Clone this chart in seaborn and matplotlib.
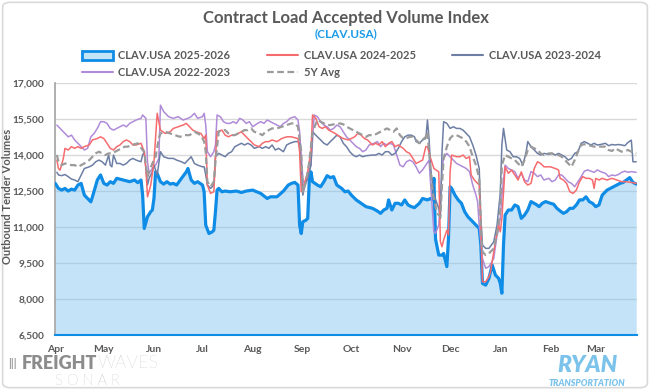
#!/usr/bin/env python3
"""Contract Load Accepted Volume Index (CLAV.USA) - seasonal comparison chart."""
import matplotlib

matplotlib.use("Agg")
import matplotlib.pyplot as plt
import pandas as pd
import seaborn as sns
from matplotlib.lines import Line2D
from matplotlib.patches import FancyBboxPatch, Patch
from matplotlib.ticker import FuncFormatter

MONTHS = ["Apr", "May", "Jun", "Jul", "Aug", "Sep", "Oct", "Nov", "Dec", "Jan", "Feb", "Mar"]
MONTH_DAYS = [0, 30, 61, 91, 122, 153, 183, 214, 244, 275, 306, 334]
Y_TICKS = [6500, 8000, 9500, 11000, 12500, 14000, 15500, 17000]

# days since Apr 1 / index value
DAY_2526 = [0, 2, 4, 6, 8, 10, 12, 14, 16, 18, 20, 22, 23, 26, 28, 30, 32, 34, 36, 38, 42, 46, 49, 51, 53,
            54, 55, 57, 59, 60, 61, 62, 63, 65, 67, 69, 71, 73, 75, 78, 81, 82, 84, 86, 88, 91, 92, 93, 95,
            97, 98, 99, 100, 101, 103, 105, 108, 112, 115, 118, 122, 127, 131, 133, 137, 141, 144, 146, 148,
            150, 151, 152, 153, 155, 156, 157, 158, 159, 162, 164, 166, 168, 170, 172, 174, 177, 179, 181,
            183, 186, 189, 192, 196, 199, 201, 203, 205, 206, 208, 210, 212, 214, 216, 218, 220, 222, 225,
            227, 230, 232, 233, 234, 235, 237, 239, 240, 242, 243, 244, 245, 247, 249, 251, 253, 255, 257,
            260, 262, 263, 264, 266, 268, 270, 272, 274, 275, 276, 277, 278, 280, 282, 284, 286, 288, 290,
            292, 294, 297, 299, 301, 303, 306, 308, 310, 312, 314, 316, 318, 320, 322, 324, 326, 328, 330,
            332, 334, 336, 338, 341, 343, 345, 347, 349, 351, 353, 355, 357, 359]
VAL_2526 = [12820, 12610, 12540, 12610, 12500, 12580, 12540, 12750, 12820, 12330, 12190, 12050, 12260, 12960,
            13170, 12820, 12750, 12890, 12820, 13030, 12960, 12890, 12960, 12850, 12960, 12330, 10940, 11430,
            11640, 11710, 12190, 13300, 13230, 12890, 12790, 12890, 12790, 12820, 12750, 13030, 13300, 13440,
            12960, 12820, 12890, 12750, 12470, 11080, 10730, 10800, 10870, 11640, 12540, 12610, 12470, 12500,
            12470, 12500, 12440, 12500, 12540, 12400, 12190, 12260, 12260, 12500, 12750, 12820, 12860, 12750,
            11080, 10730, 11220, 11290, 11360, 12960, 13300, 12890, 12750, 12680, 12890, 13140, 13060, 13100,
            12750, 12610, 12470, 12500, 12330, 12130, 11990, 11850, 11780, 11670, 11570, 11710, 11780, 12130,
            11710, 11990, 11990, 11920, 12130, 11920, 11850, 11810, 11990, 12190, 12130, 12190, 12130, 13030,
            10500, 9830, 9830, 9900, 9350, 10530, 12680, 12610, 12330, 12130, 11990, 11640, 11430, 11290,
            11080, 10940, 10250, 8650, 8580, 8860, 9420, 9000, 8860, 8650, 8240, 10250, 11500, 11710, 11710,
            11920, 11850, 11360, 11500, 11710, 12060, 11950, 11850, 11990, 12060, 11990, 11950, 11780, 11670,
            11570, 11640, 11780, 11780, 11920, 12130, 12130, 12260, 12060, 11990, 11850, 11920, 12330, 12540,
            12610, 12680, 12750, 12820, 12860, 12960, 13060, 12860, 12790]

DAY_2425 = [1, 2, 3, 5, 6, 8, 10, 12, 14, 16, 18, 21, 23, 26, 28, 30, 32, 34, 36, 38, 40, 42, 44, 46, 48, 50,
            53, 55, 56, 57, 59, 61, 63, 65, 68, 71, 73, 76, 79, 81, 83, 85, 87, 90, 92, 93, 94, 96, 98, 99,
            100, 103, 105, 107, 109, 111, 113, 115, 117, 119, 121, 123, 126, 128, 130, 132, 134, 137, 140,
            143, 146, 148, 150, 151, 152, 154, 156, 158, 159, 161, 163, 165, 167, 169, 171, 173, 176, 178,
            181, 183, 185, 187, 189, 191, 193, 196, 198, 200, 202, 204, 206, 208, 210, 212, 215, 217, 219,
            221, 223, 225, 227, 229, 230, 232, 234, 237, 238, 239, 240, 242, 243, 244, 245, 248, 250, 252,
            254, 256, 257, 259, 261, 262, 263, 264, 266, 268, 269, 272, 274, 275, 276, 278, 280, 282, 284,
            286, 288, 290, 292, 294, 296, 298, 300, 302, 306, 309, 311, 312, 314, 316, 318, 320, 322, 324,
            326, 328, 330, 332, 333, 334, 336, 338, 341, 344, 347, 350, 353, 356, 359]
VAL_2425 = [13790, 13440, 13370, 13860, 14280, 14210, 14350, 14280, 14350, 14280, 14350, 14420, 14630, 14690,
            14760, 14690, 14490, 14280, 14210, 14350, 14420, 14560, 14630, 14560, 14420, 14420, 14490, 14140,
            13440, 12260, 12750, 13720, 15740, 15040, 14900, 14970, 15110, 15180, 15250, 15320, 15180, 15040,
            14970, 14900, 14690, 14830, 12750, 12400, 12470, 13860, 14970, 15040, 14830, 14760, 14830, 14830,
            14900, 14970, 14830, 14690, 14560, 14420, 14350, 14490, 14560, 14560, 14630, 14560, 14690, 14760,
            14760, 14720, 14690, 14140, 12470, 12820, 13300, 14140, 15670, 15530, 15180, 15110, 15180, 15040,
            14970, 14900, 14760, 14690, 14630, 14690, 14760, 14900, 14830, 14690, 14630, 14420, 14490, 14420,
            14560, 14350, 14490, 14560, 14350, 14420, 14280, 14140, 14070, 13860, 13650, 13720, 13790, 14350,
            14350, 13860, 13440, 13300, 10390, 10180, 10460, 10870, 10670, 13300, 14000, 13930, 13930, 14000,
            13860, 13930, 13170, 12960, 12820, 12750, 11080, 8720, 8720, 8930, 9140, 10390, 11080, 10800,
            11360, 13510, 13240, 13370, 13170, 12960, 13300, 12890, 12750, 12820, 13440, 13720, 13650, 13510,
            13510, 13440, 13380, 13030, 12960, 12820, 12470, 12400, 12540, 12890, 13100, 13030, 13030, 12960,
            12610, 13030, 12960, 13030, 12960, 13030, 12960, 12890, 12890, 12860, 12820]

DAY_2324 = [1, 2, 4, 6, 8, 10, 12, 14, 16, 18, 21, 23, 25, 27, 29, 31, 33, 34, 35, 36, 38, 40, 42, 44, 46, 48,
            50, 53, 54, 55, 57, 58, 60, 61, 63, 65, 67, 70, 73, 75, 78, 80, 82, 84, 86, 88, 91, 92, 93, 94,
            96, 98, 99, 101, 103, 105, 107, 109, 111, 113, 115, 117, 119, 121, 123, 126, 128, 130, 132, 134,
            136, 138, 141, 143, 145, 148, 150, 151, 153, 154, 156, 158, 159, 162, 164, 166, 168, 170, 172,
            174, 176, 178, 180, 182, 184, 186, 188, 190, 192, 196, 198, 200, 202, 204, 206, 208, 210, 212,
            214, 216, 218, 220, 222, 223, 225, 227, 229, 230, 231, 232, 234, 237, 238, 239, 240, 242, 244,
            246, 248, 250, 252, 254, 256, 258, 260, 262, 263, 264, 266, 268, 271, 273, 275, 276, 277, 279,
            281, 283, 285, 287, 289, 290, 291, 292, 294, 296, 298, 300, 302, 305, 307, 309, 311, 313, 315,
            317, 319, 321, 323, 325, 327, 329, 331, 333, 335, 337, 340, 342, 344, 346, 348, 350, 352, 354,
            356, 357, 359]
VAL_2324 = [13280, 13170, 13140, 13190, 13100, 13000, 12960, 12890, 13170, 13440, 13510, 13580, 13720, 13790,
            13720, 13580, 14000, 13580, 13510, 14000, 13650, 13650, 13580, 13650, 13790, 13860, 13790, 13720,
            14000, 14140, 12750, 13030, 13300, 13580, 13170, 14140, 13930, 13860, 13860, 13790, 13720, 13650,
            13790, 13930, 13650, 13580, 13510, 13510, 13170, 12750, 12610, 12750, 13930, 14070, 14000, 13930,
            14070, 14140, 14350, 14420, 14490, 14420, 14490, 14420, 14280, 14350, 14280, 14350, 14280, 14420,
            14210, 14280, 14140, 14420, 14490, 14560, 14560, 14490, 12330, 12680, 13030, 13580, 14970, 14760,
            14630, 14490, 14420, 14560, 14690, 14830, 14760, 14490, 14350, 14140, 14000, 13930, 14000, 13930,
            13970, 14000, 14000, 14070, 14000, 14140, 14140, 14000, 14070, 14280, 14560, 14760, 14830, 14830,
            14760, 14560, 14490, 14630, 14690, 15460, 14690, 13440, 12330, 11780, 11360, 14140, 15390, 15320,
            15110, 15180, 15110, 15110, 15040, 14900, 14760, 14420, 14000, 13440, 11360, 10250, 10110, 10110,
            10390, 11080, 12400, 14420, 15110, 14210, 14140, 13930, 13930, 13860, 13580, 13850, 14140, 14560,
            14350, 14210, 14070, 14000, 14070, 14030, 14070, 14000, 14070, 14000, 13930, 13790, 13860, 14070,
            14140, 14490, 14560, 14490, 14420, 14490, 14420, 14440, 14490, 14390, 14440, 14420, 14440, 14420,
            14390, 14530, 14620, 13720, 13720]

DAY_2223 = [1, 2, 4, 6, 8, 10, 12, 14, 16, 18, 20, 22, 24, 26, 28, 30, 32, 34, 36, 38, 40, 42, 44, 46, 48, 50,
            53, 54, 56, 57, 58, 60, 62, 64, 65, 67, 70, 73, 76, 79, 82, 84, 86, 88, 91, 92, 93, 94, 96, 98,
            99, 100, 102, 104, 106, 108, 110, 112, 114, 116, 118, 120, 122, 125, 127, 129, 131, 133, 135, 137,
            139, 141, 143, 145, 148, 150, 151, 153, 154, 156, 158, 160, 162, 164, 166, 168, 170, 172, 174,
            176, 178, 180, 182, 184, 186, 188, 190, 192, 194, 197, 199, 201, 203, 205, 207, 209, 211, 213,
            215, 217, 219, 221, 223, 225, 227, 229, 231, 232, 234, 235, 237, 238, 239, 240, 242, 244, 246,
            248, 250, 252, 254, 256, 258, 260, 261, 262, 264, 266, 268, 271, 273, 275, 276, 278, 280, 282,
            284, 286, 288, 290, 292, 294, 296, 298, 300, 302, 305, 307, 309, 311, 313, 315, 317, 319, 321,
            323, 325, 327, 329, 331, 333, 335, 337, 340, 342, 344, 346, 348, 350, 352, 354, 356, 359]
VAL_2223 = [15250, 15180, 15040, 14900, 14760, 14830, 14630, 14490, 14350, 14210, 14280, 14760, 14900, 15110,
            15390, 15390, 15320, 15110, 15040, 15110, 15180, 15250, 15180, 15320, 15390, 15460, 15530, 15670,
            15530, 13720, 13240, 13440, 13580, 13860, 16080, 15810, 15600, 15530, 15600, 15460, 15530, 15600,
            15740, 15530, 15600, 15740, 15250, 14140, 13930, 14140, 14420, 15670, 15600, 15390, 15320, 15320,
            15390, 15320, 15530, 15460, 15320, 15390, 15180, 15320, 15390, 15320, 15460, 15390, 15320, 15250,
            15180, 15320, 15390, 15530, 15600, 15460, 14970, 13030, 12750, 13170, 13580, 15670, 15600, 15390,
            15250, 15180, 15040, 15110, 15250, 15180, 14970, 14760, 14630, 14490, 14350, 14280, 14140, 14210,
            14420, 14490, 14560, 14350, 14490, 14420, 14490, 14420, 14000, 13580, 13510, 13720, 13790, 13720,
            13510, 13240, 13380, 13580, 13790, 12750, 10800, 10740, 11080, 12060, 13440, 13860, 14070, 13930,
            13790, 13650, 13580, 13510, 13440, 13310, 12750, 12330, 12060, 11080, 9690, 9280, 9350, 9690,
            10670, 11360, 12330, 13580, 13440, 13380, 13310, 13030, 13240, 12960, 12890, 13310, 13240, 13100,
            13170, 12960, 13030, 12890, 12960, 13170, 13170, 13030, 12890, 12820, 12680, 12890, 13100, 13330,
            13380, 13330, 13280, 13380, 13310, 13240, 13100, 13170, 13140, 13190, 13280, 13330, 13280, 13310,
            13280]

DAY_5Y = [1, 2, 4, 6, 8, 10, 12, 14, 16, 18, 21, 23, 25, 27, 29, 31, 33, 35, 37, 39, 41, 43, 45, 47, 49, 51,
          54, 55, 57, 58, 60, 62, 64, 65, 68, 71, 74, 77, 80, 83, 86, 90, 92, 93, 94, 96, 98, 99, 101, 103,
          105, 107, 109, 111, 113, 115, 117, 119, 121, 123, 126, 128, 130, 132, 134, 137, 140, 143, 146, 148,
          150, 152, 153, 155, 157, 159, 162, 164, 166, 168, 170, 172, 174, 176, 178, 180, 182, 184, 186, 188,
          190, 192, 194, 197, 199, 201, 203, 205, 207, 209, 211, 213, 215, 217, 219, 221, 223, 225, 227, 229,
          230, 231, 233, 236, 238, 239, 240, 242, 244, 246, 248, 250, 252, 254, 256, 258, 260, 262, 263, 264,
          266, 268, 271, 273, 275, 276, 278, 280, 282, 284, 286, 288, 290, 292, 294, 296, 298, 300, 302, 305,
          307, 309, 311, 313, 315, 317, 319, 321, 323, 325, 327, 329, 331, 333, 335, 337, 340, 342, 344, 346,
          348, 350, 352, 354, 356, 359]
VAL_5Y = [14000, 13720, 13580, 13650, 13610, 13580, 13580, 13510, 13580, 13650, 13790, 13930, 14070, 14140,
          14070, 14000, 14070, 14070, 14140, 14210, 14280, 14350, 14350, 14420, 14450, 14490, 14210, 14140,
          13100, 13310, 13650, 13930, 14700, 14900, 14970, 14900, 14830, 14760, 14830, 14830, 14970, 14830,
          14560, 14140, 12890, 12680, 12890, 13720, 14970, 15040, 15040, 14900, 14830, 14830, 14900, 14970,
          15040, 15040, 15110, 14970, 14900, 14830, 14970, 15040, 15110, 15110, 15180, 15250, 15320, 15320,
          15180, 14140, 12470, 12890, 13720, 14970, 15460, 15390, 15320, 15250, 15250, 15280, 15280, 15320,
          15280, 15180, 15110, 15040, 14970, 14900, 14830, 14760, 14830, 14830, 14900, 14970, 15040, 15110,
          15040, 14970, 15110, 14830, 14700, 14700, 14760, 14760, 14630, 14490, 14630, 14760, 14970, 14140,
          12470, 11570, 11430, 12750, 13860, 14350, 14700, 14830, 14830, 14760, 14700, 14560, 14350, 13930,
          13580, 13030, 11080, 9970, 9830, 9900, 10110, 10670, 11710, 13580, 14000, 13930, 13860, 13790,
          13650, 13510, 13790, 14210, 14350, 14280, 14210, 14070, 14000, 14070, 14070, 14000, 14000, 13930,
          13790, 13650, 13510, 13790, 14140, 14420, 14450, 14420, 14390, 14350, 14380, 14350, 14350, 14210,
          14170, 14280, 14210, 14140, 14170, 14210, 14140, 14070]

GRAY = "#595959"
BLUE = "#0f8ce6"


def main() -> None:
    sns.set_theme(style="white")
    plt.rcParams["font.family"] = ["Lato", "DejaVu Sans"]

    fig = plt.figure(figsize=(6.5, 3.9), dpi=100)
    ax = fig.add_axes([0.085, 0.141, 0.895, 0.646])

    # light grey frame around the whole picture
    fig.patches.append(FancyBboxPatch((0.004, 0.006), 0.992, 0.988, boxstyle="round,pad=0,rounding_size=0.012",
                                      transform=fig.transFigure, fill=False, edgecolor="#d9d9d9", lw=1.2))

    ax.fill_between(DAY_2526, VAL_2526, 6500, color="#7cc2f0", alpha=0.45, lw=0, zorder=1)
    sns.lineplot(x=DAY_2526, y=VAL_2526, ax=ax, color=BLUE, lw=2.3, estimator=None, sort=False, zorder=3)
    sns.lineplot(x=DAY_2223, y=VAL_2223, ax=ax, color="#b08bd8", lw=1.1, estimator=None, sort=False, zorder=4)
    sns.lineplot(x=DAY_2324, y=VAL_2324, ax=ax, color="#6c7ea4", lw=1.1, estimator=None, sort=False, zorder=4)
    sns.lineplot(x=DAY_2425, y=VAL_2425, ax=ax, color="#f66b6e", lw=1.1, estimator=None, sort=False, zorder=4)
    ax.plot(DAY_5Y, VAL_5Y, color="#9b9b9b", lw=1.6, ls=(0, (3, 1.6)), zorder=4)

    ax.set_xlim(0, 359.5)
    ax.set_ylim(6500, 17000)
    ax.set_yticks(Y_TICKS)
    ax.yaxis.set_major_formatter(FuncFormatter(lambda v, _: f"{v:,.0f}"))
    ax.set_xticks(MONTH_DAYS)
    ax.set_xticklabels(MONTHS)
    ax.grid(axis="y", color="#d9d9d9", lw=1, zorder=0)
    ax.set_axisbelow(True)
    for side in ("top", "right"):
        ax.spines[side].set_visible(False)
    ax.spines["left"].set_color("#a6a6a6")
    ax.spines["bottom"].set_color(BLUE)
    ax.spines["bottom"].set_linewidth(1.5)
    ax.tick_params(axis="y", length=0, pad=8, labelsize=7.3, labelcolor=GRAY)
    ax.tick_params(axis="x", length=3, color="#c8c8c8", direction="out", pad=4, labelsize=7.5, labelcolor=GRAY)
    for lab in ax.get_xticklabels() + ax.get_yticklabels():
        lab.set_fontweight("bold")
    ax.set_xlabel("")
    ax.set_ylabel("")
    fig.text(0.012, 0.497, "Outbound Tender Volumes", rotation=90, ha="center", va="center",
             fontsize=8, fontweight="bold", color=GRAY)

    fig.text(0.532, 0.955, "Contract Load Accepted Volume Index", ha="center", va="center",
             fontsize=12, fontweight="bold", color=GRAY)
    fig.text(0.532, 0.913, "(CLAV.USA)", ha="center", va="center", fontsize=8.5, fontweight="bold",
             color="#1a9be8")

    handles = [
        Patch(facecolor="#c4e4f8", edgecolor=BLUE, lw=2),
        Line2D([], [], color="#b08bd8", lw=1.5),
        Line2D([], [], color="#f66b6e", lw=1.5),
        Line2D([], [], color="#9b9b9b", lw=1.6, ls=(0, (3, 1.6))),
        Line2D([], [], color="#6c7ea4", lw=1.5),
    ]
    labels = ["CLAV.USA 2025-2026", "CLAV.USA 2022-2023", "CLAV.USA 2024-2025", "5Y Avg", "CLAV.USA 2023-2024"]
    fig.legend(handles, labels, ncol=3, loc="center", bbox_to_anchor=(0.525, 0.835), frameon=False,
               prop={"weight": "bold", "size": 8}, labelcolor=GRAY, handlelength=2.8, handleheight=0.9,
               columnspacing=3.3, handletextpad=0.5, labelspacing=0.55)

    # source / brand marks
    fig.text(0.013, 0.068, "|||", fontsize=8, color="#a0a0a0", fontweight="bold", va="center")
    t1 = fig.text(0.034, 0.068, "FREIGHT", fontsize=13, color="#8c8c8c", fontweight="heavy", va="center")
    renderer = fig.canvas.get_renderer()
    bb = t1.get_window_extent(renderer).transformed(fig.transFigure.inverted())
    fig.text(bb.x1, 0.068, "WAVES", fontsize=13, color="#b0b0b0", fontweight="light", va="center")
    fig.text(0.135, 0.024, "S O N A R", fontsize=10.5, color="#9c9c9c", fontweight="light", va="center",
             ha="center")
    fig.text(0.903, 0.064, "RYAN", fontsize=16.5, color="#7cc3ec", fontweight="heavy", style="italic",
             va="center", ha="center")
    fig.text(0.903, 0.016, "TRANSPORTATION", fontsize=6.4, color="#7cc3ec", fontweight="heavy", style="italic",
             va="center", ha="center")

    fig.savefig("out.png", dpi=100)


if __name__ == "__main__":
    main()
